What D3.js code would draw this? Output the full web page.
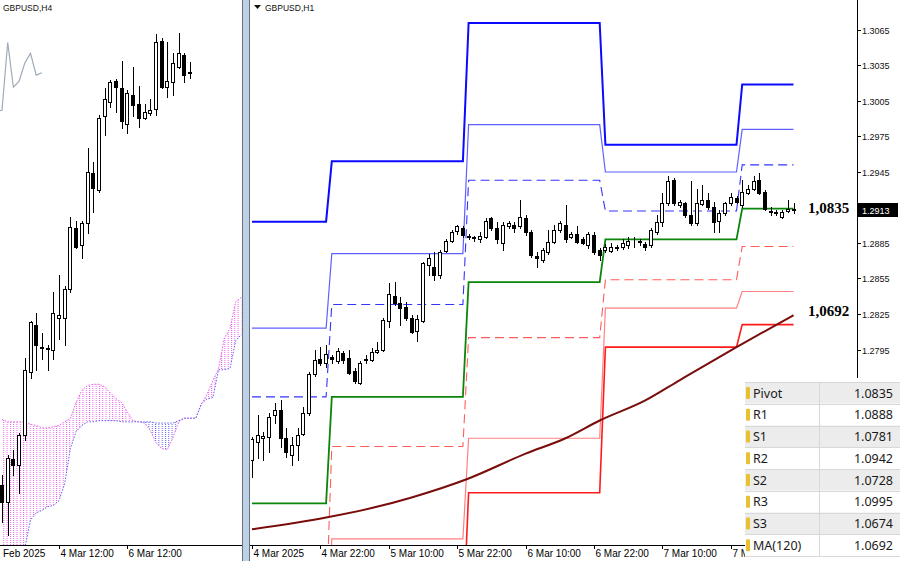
<!DOCTYPE html>
<html><head><meta charset="utf-8">
<script src="https://cdn.jsdelivr.net/npm/d3@7"></script>
<style>body{margin:0;background:#fff;}svg{display:block}</style>
</head><body>
<svg id="c" width="900" height="561"></svg>
<script>
// ---------------- DATA ----------------
// Right panel: GBPUSD H1 candles (4 Mar 10:00 ... 7 Mar)
const rOpen  = [1.2702,1.2717,1.2720,1.2721,1.2740,1.2744,1.2720,1.2706,1.2714,1.2724,1.2741,1.2774,1.2787,1.2784,1.2789,1.2785,1.2792,1.2788,1.2777,1.2767,1.2786,1.2786,1.2793,1.2795,1.2819,1.2840,1.2834,1.2831,1.2822,1.2811,1.2819,1.2866,1.2865,1.2858,1.2878,1.2887,1.2895,1.2898,1.2891,1.2889,1.2888,1.2890,1.2906,1.2898,1.2885,1.2899,1.2900,1.2899,1.2906,1.2894,1.2874,1.2871,1.2877,1.2886,1.2896,1.2900,1.2890,1.2893,1.2888,1.2883,1.2892,1.2879,1.2879,1.2878,1.2881,1.2882,1.2883,1.2886,1.2886,1.2884,1.2883,1.2894,1.2903,1.2919,1.2938,1.2917,1.2919,1.2909,1.2902,1.2918,1.2921,1.2915,1.2904,1.2910,1.2919,1.2923,1.2917,1.2927,1.2931,1.2938,1.2928,1.2912,1.2911,1.2907,1.2912,1.2914];
const rHigh  = [1.2721,1.2740,1.2725,1.2741,1.2750,1.2752,1.2729,1.2721,1.2729,1.2746,1.2776,1.2795,1.2797,1.2799,1.2790,1.2796,1.2794,1.2795,1.2779,1.2785,1.2790,1.2796,1.2801,1.2822,1.2851,1.2852,1.2839,1.2835,1.2824,1.2824,1.2869,1.2876,1.2877,1.2879,1.2888,1.2896,1.2900,1.2899,1.2893,1.2891,1.2894,1.2906,1.2907,1.2903,1.2903,1.2904,1.2903,1.2921,1.2909,1.2896,1.2877,1.2881,1.2896,1.2900,1.2904,1.2917,1.2894,1.2899,1.2890,1.2894,1.2894,1.2881,1.2884,1.2885,1.2883,1.2888,1.2890,1.2890,1.2888,1.2886,1.2898,1.2909,1.2927,1.2942,1.2940,1.2921,1.2920,1.2937,1.2931,1.2934,1.2927,1.2920,1.2913,1.2920,1.2927,1.2925,1.2938,1.2934,1.2942,1.2944,1.2930,1.2915,1.2913,1.2913,1.2921,1.2919];
const rLow   = [1.2687,1.2703,1.2702,1.2708,1.2733,1.2713,1.2704,1.2697,1.2702,1.2723,1.2740,1.2773,1.2782,1.2780,1.2784,1.2784,1.2784,1.2774,1.2767,1.2766,1.2784,1.2785,1.2792,1.2794,1.2814,1.2833,1.2816,1.2820,1.2809,1.2802,1.2818,1.2858,1.2854,1.2855,1.2877,1.2886,1.2893,1.2890,1.2888,1.2887,1.2886,1.2889,1.2896,1.2885,1.2879,1.2898,1.2894,1.2898,1.2892,1.2873,1.2865,1.2869,1.2876,1.2885,1.2894,1.2886,1.2889,1.2885,1.2884,1.2881,1.2876,1.2871,1.2877,1.2877,1.2879,1.2880,1.2881,1.2882,1.2883,1.2879,1.2882,1.2893,1.2899,1.2917,1.2917,1.2915,1.2907,1.2900,1.2900,1.2917,1.2914,1.2894,1.2894,1.2909,1.2917,1.2919,1.2915,1.2926,1.2930,1.2926,1.2913,1.2909,1.2909,1.2906,1.2911,1.2910];
const rClose = [1.2719,1.2723,1.2722,1.2738,1.2744,1.2720,1.2708,1.2714,1.2723,1.2741,1.2774,1.2786,1.2784,1.2791,1.2787,1.2794,1.2786,1.2775,1.2768,1.2784,1.2787,1.2793,1.2795,1.2820,1.2842,1.2834,1.2830,1.2822,1.2810,1.2821,1.2868,1.2872,1.2858,1.2877,1.2887,1.2894,1.2899,1.2892,1.2890,1.2890,1.2891,1.2904,1.2898,1.2888,1.2900,1.2902,1.2898,1.2907,1.2894,1.2875,1.2872,1.2879,1.2886,1.2896,1.2902,1.2888,1.2893,1.2886,1.2885,1.2893,1.2877,1.2875,1.2882,1.2882,1.2882,1.2885,1.2887,1.2886,1.2887,1.2882,1.2896,1.2903,1.2919,1.2937,1.2919,1.2920,1.2909,1.2902,1.2919,1.2921,1.2915,1.2903,1.2910,1.2919,1.2924,1.2920,1.2928,1.2931,1.2937,1.2927,1.2914,1.2911,1.2910,1.2911,1.2914,1.2913];

// Daily pivot levels (first bar index of each day)
const dayStart = [0, 14, 38, 62, 86];
const lvR3 = [1.2903, 1.2954, 1.3071, 1.2968, 1.3019];
const lvR2 = [1.2813, 1.2876, 1.2985, 1.2945, 1.2981];
const lvR1 = [1.2755, 1.2833, 1.2938, 1.2912, 1.2951];
const lvP  = [1.2665, 1.2755, 1.2852, 1.2888, 1.2914];
const lvS1 = [1.2575, 1.2713, 1.2805, 1.2854, 1.2882];
const lvS2 = [1.2500, 1.2635, 1.2720, 1.2830, 1.2844];
const lvS3 = [1.2400, 1.2560, 1.2674, 1.2797, 1.2816];

// MA(120) readings (bar index, value)
const maIdx = [0, 13, 21, 28, 38, 48, 55, 61, 69, 75, 85, 95];
const maVal = [1.2643, 1.2653, 1.2661, 1.2670, 1.2686, 1.2707, 1.2720, 1.2735, 1.2752, 1.2769, 1.2797, 1.2824];

// Right axis
const rTicks = [1.3065, 1.3035, 1.3005, 1.2975, 1.2945, 1.2885, 1.2855, 1.2825, 1.2795];
const lastPrice = 1.2913;
const rTimeIdx = [0, 12, 24, 36, 48, 60, 72, 84];
const rTimeLbl = ["4 Mar 2025", "4 Mar 22:00", "5 Mar 10:00", "5 Mar 22:00", "6 Mar 10:00", "6 Mar 22:00", "7 Mar 10:00", "7 M"];

// Left panel: GBPUSD H4 candles
const lOpen  = [1.2570,1.2556,1.2591,1.2586,1.2611,1.2663,1.2702,1.2684,1.2683,1.2681,1.2708,1.2708,1.2732,1.2782,1.2768,1.2786,1.2827,1.2813,1.2874,1.2886,1.2903,1.2897,1.2868,1.2892,1.2884,1.2873,1.2877,1.2880,1.2936,1.2898,1.2902,1.2915,1.2925,1.2911];
const lHigh  = [1.2578,1.2595,1.2599,1.2613,1.2675,1.2705,1.2712,1.2695,1.2685,1.2729,1.2743,1.2734,1.2791,1.2788,1.2788,1.2848,1.2836,1.2875,1.2897,1.2904,1.2905,1.2920,1.2896,1.2915,1.2899,1.2884,1.2888,1.2942,1.2939,1.2935,1.2926,1.2943,1.2926,1.2919];
const lLow   = [1.2539,1.2529,1.2578,1.2563,1.2607,1.2658,1.2665,1.2674,1.2665,1.2674,1.2690,1.2685,1.2729,1.2765,1.2757,1.2778,1.2795,1.2812,1.2859,1.2882,1.2878,1.2864,1.2860,1.2874,1.2865,1.2872,1.2875,1.2875,1.2897,1.2890,1.2892,1.2914,1.2902,1.2906];
const lClose = [1.2556,1.2592,1.2586,1.2611,1.2665,1.2704,1.2685,1.2683,1.2682,1.2712,1.2710,1.2732,1.2783,1.2766,1.2786,1.2828,1.2815,1.2873,1.2888,1.2902,1.2898,1.2870,1.2893,1.2883,1.2873,1.2878,1.2879,1.2935,1.2898,1.2903,1.2918,1.2926,1.2908,1.2910];

// Ichimoku cloud spans (bar index 0..42)
const spanA = [1.2624,1.2622,1.2622,1.2622,1.2622,1.2620,1.2619,1.2617,1.2617,1.2618,1.2619,1.2622,1.2625,1.2638,1.2648,1.2652,1.2653,1.2653,1.2651,1.2646,1.2641,1.2638,1.2630,1.2623,1.2622,1.2621,1.2615,1.2605,1.2600,1.2599,1.2609,1.2622,1.2625,1.2625,1.2625,1.2637,1.2645,1.2656,1.2666,1.2691,1.2699,1.2721,1.2725];
const spanB = [1.2492,1.2496,1.2501,1.2508,1.2518,1.2541,1.2547,1.2549,1.2552,1.2553,1.2557,1.2571,1.2600,1.2614,1.2619,1.2622,1.2622,1.2623,1.2623,1.2623,1.2623,1.2622,1.2622,1.2622,1.2622,1.2622,1.2622,1.2621,1.2621,1.2621,1.2621,1.2623,1.2625,1.2625,1.2625,1.2637,1.2641,1.2642,1.2665,1.2665,1.2666,1.2689,1.2694];
const chikouShift = 26;
const lTimeIdx = [10, 22];
const lTimeLbl = ["4 Mar 12:00", "6 Mar 12:00"];
const lFirstLbl = "Feb 2025";

// Table
const tblNames  = ["Pivot", "R1", "S1", "R2", "S2", "R3", "S3", "MA(120)"];
const tblValues = ["1.0835", "1.0888", "1.0781", "1.0942", "1.0728", "1.0995", "1.0674", "1.0692"];
const noteP = "1,0835", noteMA = "1,0692";

// ---------------- DRAW ----------------
const svg = d3.select("#c");
const F = "'Liberation Sans', Arial, sans-serif";
const defs = svg.append("defs");
defs.append("clipPath").attr("id","cl").append("rect").attr("x",0).attr("y",0).attr("width",242).attr("height",545);
defs.append("clipPath").attr("id","cr").append("rect").attr("x",251).attr("y",0).attr("width",606).attr("height",545);
function hatch(id, col) {
  const p = defs.append("pattern").attr("id", id).attr("patternUnits", "userSpaceOnUse")
    .attr("width", 3.3).attr("height", 2);
  p.append("rect").attr("x", 0).attr("y", 0).attr("width", 1).attr("height", 1).attr("fill", col);
}
const PINK = "#ea5fea", BLUE = "#5f5ff2";
hatch("hp", PINK); hatch("hb", BLUE);
const snap = v => Math.round(v) + 0.5;

function drawCandles(g, x, y, O, Hh, L, C) {
  O.forEach((o, i) => {
    const c = C[i], px = Math.round(x(i));
    g.append("line").attr("x1", px + 0.5).attr("x2", px + 0.5)
      .attr("y1", Math.round(y(Hh[i]))).attr("y2", Math.round(y(L[i])) + 1)
      .attr("stroke", "#000").attr("stroke-width", 1);
    const yt = Math.round(y(Math.max(o, c))), yb = Math.round(y(Math.min(o, c)));
    g.append("rect").attr("x", px - 1.5).attr("y", yt + 0.5)
      .attr("width", 3).attr("height", Math.max(0, yb - yt))
      .attr("fill", c >= o ? "#fff" : "#000").attr("stroke", "#000").attr("stroke-width", 1);
  });
}

// ---- Left panel ----
const xL = d3.scaleLinear().domain([0, 33]).range([2, 190.1]);
const yL = d3.scaleLinear().domain([1.25204, 1.2970]).range([545, 0]);
const gl = svg.append("g").attr("clip-path", "url(#cl)");
// cloud hatch areas
const lo = j => Math.min(spanA[j], spanB[j]);
gl.append("path").attr("d", d3.area().x((d, j) => xL(j)).y0((d, j) => yL(lo(j))).y1((d, j) => yL(spanA[j]))(spanA))
  .attr("fill", "url(#hp)");
gl.append("path").attr("d", d3.area().x((d, j) => xL(j)).y0((d, j) => yL(lo(j))).y1((d, j) => yL(spanB[j]))(spanB))
  .attr("fill", "url(#hb)");
const lnL = d3.line().x((d, j) => xL(j)).y(d => yL(d));
gl.append("path").attr("d", lnL(spanA)).attr("fill", "none").attr("stroke", PINK).attr("stroke-width", 1).attr("stroke-dasharray", "1.5,1.5");
gl.append("path").attr("d", lnL(spanB)).attr("fill", "none").attr("stroke", BLUE).attr("stroke-width", 1).attr("stroke-dasharray", "1.5,1.5");
// chikou span (close shifted back)
const chik = lClose.map((c, j) => ({ j: j - chikouShift, v: c })).filter(d => d.j >= -1);
gl.append("path").attr("d", d3.line().x(d => xL(d.j)).y(d => yL(d.v))(chik))
  .attr("fill", "none").attr("stroke", "#9fabb8").attr("stroke-width", 1.2);
drawCandles(gl, xL, yL, lOpen, lHigh, lLow, lClose);

// left axis & frame
svg.append("line").attr("x1", 0).attr("x2", 242).attr("y1", 545.5).attr("y2", 545.5).attr("stroke", "#000");
svg.append("text").attr("x", 3).attr("y", 557).attr("font-family", F).attr("font-size", 10).attr("fill", "#000").text(lFirstLbl);
lTimeIdx.forEach((j, k) => {
  const px = snap(xL(j));
  svg.append("line").attr("x1", px).attr("x2", px).attr("y1", 545).attr("y2", 549).attr("stroke", "#000");
  svg.append("text").attr("x", px + 1).attr("y", 557).attr("font-family", F).attr("font-size", 10).attr("fill", "#000").text(lTimeLbl[k]);
});
svg.append("text").attr("x", 3).attr("y", 11).attr("font-family", F).attr("font-size", 8.5).attr("fill", "#111").text("GBPUSD,H4");
svg.append("line").attr("x1", 242.5).attr("x2", 242.5).attr("y1", 0).attr("y2", 561).attr("stroke", "#6f6f6f");
svg.append("rect").attr("x", 243).attr("y", 0).attr("width", 6).attr("height", 561).attr("fill", "#bcd2ea");
svg.append("line").attr("x1", 249.5).attr("x2", 249.5).attr("y1", 0).attr("y2", 561).attr("stroke", "#6f6f6f");

// ---- Right panel ----
const xR = d3.scaleLinear().domain([0, 95]).range([252, 793.5]);
const yR = d3.scaleLinear().domain([1.2795, 1.3065]).range([349.5, 30]);
const gr = svg.append("g").attr("clip-path", "url(#cr)");
const lastBar = rClose.length - 1;
function levelPts(arr) {
  const pts = [];
  arr.forEach((v, k) => {
    const s = dayStart[k], e = k < dayStart.length - 1 ? dayStart[k + 1] - 1 : lastBar;
    pts.push([s, v], [e, v]);
  });
  return pts;
}
const lnR = d3.line().x(d => xR(d[0])).y(d => yR(d[1]));
const levels = [
  [lvS3, "#ff1a1a", 1.6, null],
  [lvS2, "#ff8080", 1.2, null],
  [lvS1, "#ff5c5c", 1.1, "9,5"],
  [lvR2, "#6060ff", 1.2, null],
  [lvR1, "#3434ff", 1.1, "9,5"],
  [lvR3, "#0a0aff", 2, null],
  [lvP,  "#0a860a", 1.8, null]
];
levels.forEach(([arr, col, w, dash]) => {
  const p = gr.append("path").attr("d", lnR(levelPts(arr))).attr("fill", "none")
    .attr("stroke", col).attr("stroke-width", w);
  if (dash) p.attr("stroke-dasharray", dash);
});
gr.append("path").attr("d", d3.line().curve(d3.curveMonotoneX).x((d, k) => xR(maIdx[k])).y(d => yR(d))(maVal))
  .attr("fill", "none").attr("stroke", "#7a0c0c").attr("stroke-width", 2);
drawCandles(gr, xR, yR, rOpen, rHigh, rLow, rClose);

// annotations
svg.append("text").attr("x", 808).attr("y", yR(lvP[4]) + 4).attr("font-family", "'Liberation Serif', 'Times New Roman', serif")
  .attr("font-weight", "bold").attr("font-size", 15).attr("fill", "#000").text(noteP);
svg.append("text").attr("x", 808).attr("y", yR(maVal[maVal.length - 1]) + 1).attr("font-family", "'Liberation Serif', 'Times New Roman', serif")
  .attr("font-weight", "bold").attr("font-size", 15).attr("fill", "#000").text(noteMA);

// right axes
svg.append("line").attr("x1", 250).attr("x2", 857).attr("y1", 545.5).attr("y2", 545.5).attr("stroke", "#000");
svg.append("line").attr("x1", 857.5).attr("x2", 857.5).attr("y1", 0).attr("y2", 546).attr("stroke", "#000");
rTicks.forEach(v => {
  const py = snap(yR(v));
  svg.append("line").attr("x1", 857).attr("x2", 861).attr("y1", py).attr("y2", py).attr("stroke", "#000");
  svg.append("text").attr("x", 862).attr("y", py + 3.5).attr("font-family", F).attr("font-size", 9).attr("fill", "#111").text(v.toFixed(4));
});
const lpY = Math.round(yR(lastPrice));
svg.append("rect").attr("x", 858).attr("y", lpY - 7).attr("width", 40).attr("height", 14).attr("fill", "#000");
svg.append("text").attr("x", 862).attr("y", lpY + 3.5).attr("font-family", F).attr("font-size", 9).attr("fill", "#fff").text(lastPrice.toFixed(4));
rTimeIdx.forEach((i, k) => {
  const px = snap(xR(i));
  svg.append("line").attr("x1", px).attr("x2", px).attr("y1", 545).attr("y2", 549).attr("stroke", "#000");
  svg.append("text").attr("x", px + 1).attr("y", 557).attr("font-family", F).attr("font-size", 10).attr("fill", "#000").text(rTimeLbl[k]);
});
svg.append("path").attr("d", "M254,5 L261,5 L257.5,9 Z").attr("fill", "#111");
svg.append("text").attr("x", 265).attr("y", 11).attr("font-family", F).attr("font-size", 8.5).attr("fill", "#111").text("GBPUSD,H1");

// ---- Table ----
const tX = 745, tY = 382, rowH = 21.75, divX = 819;
svg.append("rect").attr("x", tX).attr("y", 378).attr("width", 900 - tX).attr("height", 561 - 378).attr("fill", "#fff");
tblNames.forEach((n, k) => {
  const y0 = tY + k * rowH;
  svg.append("rect").attr("x", tX).attr("y", y0).attr("width", 900 - tX).attr("height", rowH)
    .attr("fill", k % 2 === 0 ? "#ececec" : "#ffffff");
  svg.append("line").attr("x1", tX).attr("x2", 900).attr("y1", Math.round(y0) + 0.5).attr("y2", Math.round(y0) + 0.5).attr("stroke", "#d8d8d8");
  svg.append("rect").attr("x", tX + 1).attr("y", y0 + 5).attr("width", 4).attr("height", 12).attr("rx", 1).attr("fill", "#e9c030");
  svg.append("text").attr("x", tX + 8).attr("y", y0 + 15.5).attr("font-family", "'Noto Sans', 'Open Sans', sans-serif").attr("font-size", 12.5).attr("fill", "#1a1a1a").text(n);
  svg.append("text").attr("x", 893).attr("y", y0 + 15.5).attr("text-anchor", "end").attr("font-family", "'Noto Sans', 'Open Sans', sans-serif").attr("font-size", 12.5).attr("fill", "#1a1a1a").text(tblValues[k]);
});
svg.append("line").attr("x1", tX).attr("x2", 900).attr("y1", Math.round(tY + 8 * rowH) + 0.5).attr("y2", Math.round(tY + 8 * rowH) + 0.5).attr("stroke", "#d8d8d8");
svg.append("line").attr("x1", divX + 0.5).attr("x2", divX + 0.5).attr("y1", tY).attr("y2", tY + 8 * rowH).attr("stroke", "#d8d8d8");
</script>
</body></html>
